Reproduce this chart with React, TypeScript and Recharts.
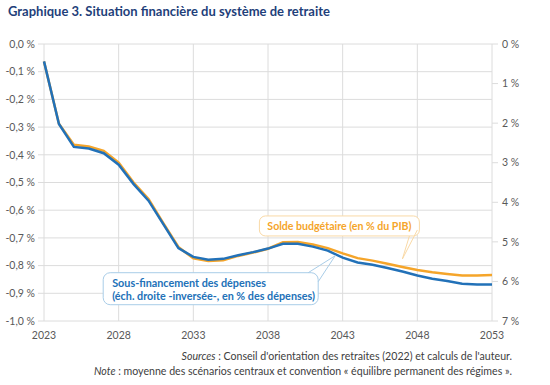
import React from "react";
import { LineChart, Line, XAxis, YAxis, CartesianGrid, ReferenceDot } from "recharts";

const years = [2023, 2024, 2025, 2026, 2027, 2028, 2029, 2030, 2031, 2032, 2033, 2034, 2035, 2036, 2037, 2038, 2039, 2040, 2041, 2042, 2043, 2044, 2045, 2046, 2047, 2048, 2049, 2050, 2051, 2052, 2053];
const soldeBudgetaire = [-0.063, -0.288, -0.364, -0.370, -0.386, -0.428, -0.500, -0.560, -0.648, -0.733, -0.774, -0.783, -0.781, -0.765, -0.753, -0.739, -0.716, -0.715, -0.724, -0.737, -0.756, -0.773, -0.782, -0.793, -0.805, -0.816, -0.824, -0.830, -0.836, -0.836, -0.834];
const sousFinancement = [0.44, 2.02, 2.60, 2.64, 2.76, 3.05, 3.54, 3.96, 4.56, 5.16, 5.38, 5.45, 5.43, 5.34, 5.26, 5.17, 5.05, 5.05, 5.12, 5.22, 5.40, 5.52, 5.58, 5.66, 5.75, 5.85, 5.93, 5.99, 6.06, 6.08, 6.08];
const xTicks = [2023, 2028, 2033, 2038, 2043, 2048, 2053];
const leftTicks = [0, -0.1, -0.2, -0.3, -0.4, -0.5, -0.6, -0.7, -0.8, -0.9, -1.0];
const rightTicks = [0, 1, 2, 3, 4, 5, 6, 7];

const data = years.map((y, i) => ({ year: y, solde: soldeBudgetaire[i], sous: sousFinancement[i] }));

const ORANGE = "#F5A52A";
const BLUE = "#2271B8";
const GRID = "#DCDCDC";
const TXT = "#595959";
const FONT = "Lato, 'Open Sans', sans-serif";

const fmtLeft = (v: number) => (v === 0 ? "0,0 %" : v.toFixed(1).replace(".", ",") + " %");
const fmtRight = (v: number) => `${v} %`;

const OrangeCallout = (props: any) => {
  const { cx, cy } = props;
  if (cx == null || cy == null) return null;
  const x0 = cx - 143, y0 = cy - 43, w = 160, h = 20;
  return (
    <g>
      <rect x={x0} y={y0} width={w} height={h} rx={6} ry={6} fill="#fff" stroke="#F9D9A6" strokeWidth={1} />
      <line x1={cx + 7} y1={y0 + h} x2={cx} y2={cy} stroke="#F9D9A6" strokeWidth={1} />
      <line x1={cx + 15} y1={y0 + h - 6} x2={cx} y2={cy} stroke="#F9D9A6" strokeWidth={1} />
      <text x={x0 + w / 2} y={y0 + 14} textAnchor="middle" fill={ORANGE} fontFamily={FONT} fontWeight={700} fontSize={10.6}>
        Solde budgétaire (en % du PIB)
      </text>
    </g>
  );
};

const BlueCallout = (props: any) => {
  const { cx, cy } = props;
  if (cx == null || cy == null) return null;
  const x0 = cx - 232, y0 = cy + 17, w = 215, h = 32;
  return (
    <g>
      <rect x={x0} y={y0} width={w} height={h} rx={7} ry={7} fill="#fff" stroke="#A9CDE8" strokeWidth={1} />
      <line x1={cx - 27} y1={y0} x2={cx} y2={cy} stroke="#A9CDE8" strokeWidth={1} />
      <line x1={cx - 17} y1={y0 + 9} x2={cx} y2={cy} stroke="#A9CDE8" strokeWidth={1} />
      <text x={x0 + 9} y={y0 + 14} fill={BLUE} fontFamily={FONT} fontWeight={700} fontSize={10.8}>
        Sous-financement des dépenses
      </text>
      <text x={x0 + 9} y={y0 + 27} fill={BLUE} fontFamily={FONT} fontWeight={700} fontSize={10.8}>
        (éch. droite -inversée-, en % des dépenses)
      </text>
    </g>
  );
};

export default function App() {
  return (
    <div style={{ position: "absolute", left: 0, top: 0, width: 550, height: 385, background: "#fff", fontFamily: FONT }}>
      <div style={{ position: "absolute", left: 8, top: 3, fontSize: 13, fontWeight: 700, color: "#1F3F7A", whiteSpace: "nowrap" }}>
        Graphique 3. Situation financière du système de retraite
      </div>
      <div style={{ position: "absolute", left: 0, top: 0 }}>
        <LineChart width={550} height={345} data={data} margin={{ top: 44, right: 0, bottom: 0, left: 0 }}>
          <CartesianGrid yAxisId="left" stroke={GRID} strokeWidth={1} />
          <XAxis
            dataKey="year"
            type="number"
            domain={[2023, 2053]}
            ticks={xTicks}
            axisLine={false}
            tickLine={false}
            tickSize={6}
            tickMargin={5}
            height={24}
            tick={{ fill: TXT, fontSize: 10.5, fontFamily: FONT }}
            interval={0}
          />
          <YAxis
            yAxisId="left"
            orientation="left"
            domain={[-1, 0]}
            ticks={leftTicks}
            tickFormatter={fmtLeft}
            width={44}
            axisLine={false}
            tickLine={{ stroke: GRID }}
            tickSize={6}
            tickMargin={3}
            interval={0}
            tick={{ fill: TXT, fontSize: 10.5, fontFamily: FONT }}
          />
          <YAxis
            yAxisId="right"
            orientation="right"
            domain={[0, 7]}
            reversed
            ticks={rightTicks}
            tickFormatter={fmtRight}
            width={58}
            axisLine={false}
            tickLine={{ stroke: GRID }}
            tickSize={6}
            tickMargin={4}
            interval={0}
            tick={{ fill: TXT, fontSize: 10.5, fontFamily: FONT }}
          />
          <Line yAxisId="left" dataKey="solde" stroke={ORANGE} strokeWidth={2.5} dot={false} isAnimationActive={false} />
          <Line yAxisId="right" dataKey="sous" stroke={BLUE} strokeWidth={2.5} dot={false} isAnimationActive={false} />
          <ReferenceDot yAxisId="left" x={2047} y={-0.776} r={0} ifOverflow="visible" shape={OrangeCallout} />
          <ReferenceDot yAxisId="right" x={2042.5} y={5.35} r={0} ifOverflow="visible" shape={BlueCallout} />
        </LineChart>
      </div>
      <div style={{ position: "absolute", right: 38, top: 349, fontSize: 10.6, color: "#404040", textAlign: "right", lineHeight: "15px", whiteSpace: "nowrap" }}>
        <div><i>Sources</i> : Conseil d'orientation des retraites (2022) et calculs de l'auteur.</div>
        <div><i>Note</i> : moyenne des scénarios centraux et convention « équilibre permanent des régimes ».</div>
      </div>
    </div>
  );
}
